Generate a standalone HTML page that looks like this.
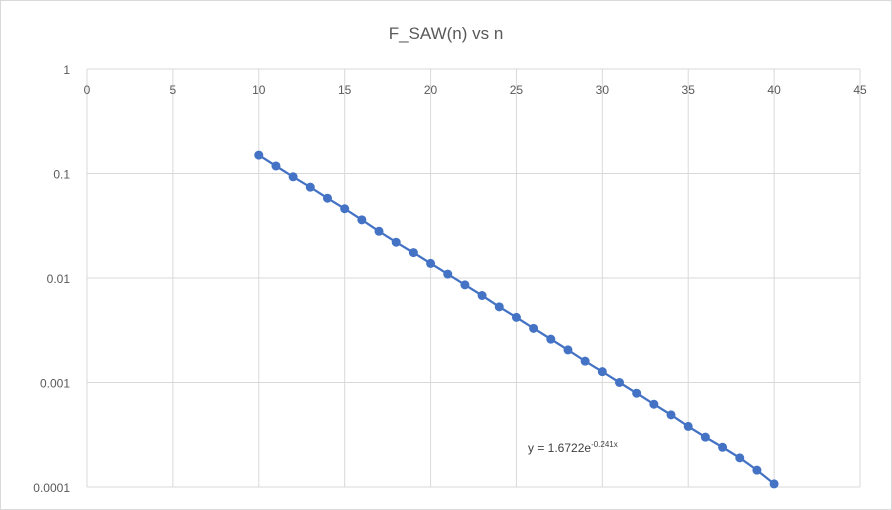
<!DOCTYPE html>
<html><head><meta charset="utf-8"><style>
html,body{margin:0;padding:0;background:#fff;}
svg{display:block;font-family:"Liberation Sans",sans-serif;}
</style></head><body>
<svg id="chart" width="892" height="510">
<rect x="0.5" y="0.5" width="891" height="509" fill="#fff" stroke="#d9d9d9"/>
<text x="446" y="39" text-anchor="middle" font-size="17" fill="#595959">F_SAW(n) vs n</text>
<g id="grid"></g><g id="series"></g>
<text x="528" y="452" font-size="12" fill="#404040">y = 1.6722e<tspan dy="-5" font-size="8">-0.241x</tspan></text>
</svg>
<script>
const xTicks=[0,5,10,15,20,25,30,35,40,45];
const yTicks=[1,0.1,0.01,0.001,0.0001];
const yTickLabels=["1","0.1","0.01","0.001","0.0001"];
const nValues=[10,11,12,13,14,15,16,17,18,19,20,21,22,23,24,25,26,27,28,29,30,31,32,33,34,35,36,37,38,39,40];
const fValues=[0.150,0.118,0.093,0.074,0.058,0.046,0.036,0.028,0.022,0.0175,0.0138,0.0109,0.0086,0.0068,0.0053,0.0042,0.0033,0.0026,0.00205,0.0016,0.00127,0.001,0.00079,0.00062,0.00049,0.00038,0.0003,0.00024,0.00019,0.000145,0.000107];
const NS='http://www.w3.org/2000/svg';
const x0=87,x1=860,y0=69,y1=487;
const sx=v=>x0+(v-0)/(45-0)*(x1-x0);
const sy=v=>y0+(0-Math.log10(v))/4*(y1-y0);
function mk(t,a,p){const e=document.createElementNS(NS,t);for(const k in a)e.setAttribute(k,a[k]);p.appendChild(e);return e;}
const g=document.getElementById('grid'),s=document.getElementById('series');
xTicks.forEach(v=>{
 const l=mk('line',{x1:sx(v),x2:sx(v),y1:y0,y2:y1,stroke:'#d9d9d9'},g);
 
 
 const t=mk('text',{x:sx(v),y:94,'text-anchor':'middle','font-size':12,fill:'#595959'},g);t.textContent=v;
 
 
});
yTicks.forEach((v,i)=>{
 const l=mk('line',{x1:x0,x2:x1,y1:sy(v),y2:sy(v),stroke:'#d9d9d9'},g);
 
 
 const t=mk('text',{x:70,y:sy(v)+5,'text-anchor':'end','font-size':12,fill:'#595959'},g);t.textContent=yTickLabels[i];
 
 
});
const pts=nValues.map((n,i)=>sx(n)+','+sy(fValues[i])).join(' ');
const pl=mk('polyline',{points:pts,fill:'none',stroke:'#4472c4','stroke-width':2.25},s);


nValues.forEach((n,i)=>{
 const c=mk('circle',{cx:sx(n),cy:sy(fValues[i]),r:4.5,fill:'#4472c4'},s);
 
 
});
</script>
</body></html>
